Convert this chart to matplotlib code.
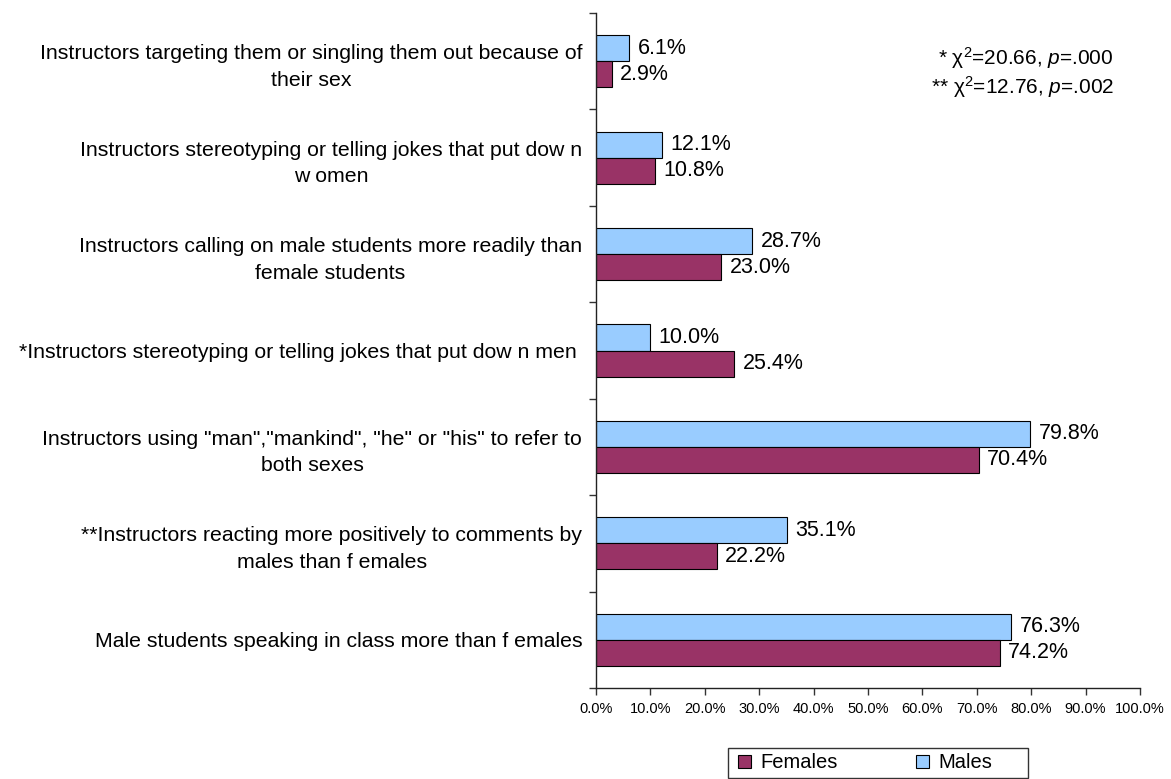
import matplotlib
matplotlib.use("Agg")
import matplotlib.pyplot as plt
from matplotlib.patches import Patch, Rectangle
import numpy as np

plt.rcParams['font.family'] = ['Liberation Sans', 'DejaVu Sans']
plt.rcParams['mathtext.fontset'] = 'custom'
plt.rcParams['mathtext.rm'] = 'Liberation Sans'
plt.rcParams['mathtext.it'] = 'Liberation Sans:italic'

# survey items, top to bottom
items = [
    "Instructors targeting them or singling them out because of\ntheir sex",
    "Instructors stereotyping or telling jokes that put dow n\nw omen",
    "Instructors calling on male students more readily than\nfemale students",
    "*Instructors stereotyping or telling jokes that put dow n men ",
    "Instructors using \"man\",\"mankind\", \"he\" or \"his\" to refer to\nboth sexes",
    "**Instructors reacting more positively to comments by\nmales than f emales",
    "Male students speaking in class more than f emales",
]
males = [6.1, 12.1, 28.7, 10.0, 79.8, 35.1, 76.3]
females = [2.9, 10.8, 23.0, 25.4, 70.4, 22.2, 74.2]
xticks = np.arange(0, 101, 10)

male_color = '#99CCFF'
female_color = '#993366'

fig = plt.figure(figsize=(11.71, 7.79), dpi=100)
ax = fig.add_axes([0.509, 0.1168, 0.4645, 0.8665])

y = np.arange(len(items))
h = 0.27
ax.barh(y - h / 2, males, height=h, color=male_color, edgecolor='black', linewidth=0.8)
ax.barh(y + h / 2, females, height=h, color=female_color, edgecolor='black', linewidth=0.8)

for yi, m, f in zip(y, males, females):
    ax.annotate(f"{m:.1f}%", (m, yi - h / 2), xytext=(6, 0), textcoords='offset points',
                va='center', ha='left', fontsize=15.5)
    ax.annotate(f"{f:.1f}%", (f, yi + h / 2), xytext=(6, 0), textcoords='offset points',
                va='center', ha='left', fontsize=15.5)

ax.set_xlim(0, 100)
ax.set_ylim(len(items) - 0.5, -0.5)
ax.set_xticks(xticks)
ax.set_xticklabels([f"{v:.1f}%" for v in xticks], fontsize=10.5)
ax.set_yticks(y)
ax.set_yticklabels(items, fontsize=15.3, multialignment='center', linespacing=1.5)
ax.set_yticks(np.arange(len(items) + 1) - 0.5, minor=True)
ax.tick_params(axis='y', which='major', length=0, pad=10)
ax.tick_params(axis='y', which='minor', length=5, width=1, color='#333333')
ax.tick_params(axis='x', length=5, width=1, color='#333333', pad=5)

for side in ['top', 'right']:
    ax.spines[side].set_visible(False)
for side in ['left', 'bottom']:
    ax.spines[side].set_color('#222222')
    ax.spines[side].set_linewidth(1)

# chi-square notes
ax.text(0.952, 0.934, "* χ$^{2}$=20.66, $p$=.000", transform=ax.transAxes,
        ha='right', va='center', fontsize=15)
ax.text(0.952, 0.891, "** χ$^{2}$=12.76, $p$=.002", transform=ax.transAxes,
        ha='right', va='center', fontsize=15)

handles = [Patch(facecolor=female_color, edgecolor='black', linewidth=0.8),
           Patch(facecolor=male_color, edgecolor='black', linewidth=0.8)]
fig.legend(handles, ['Females', 'Males'], loc='center left', ncol=2,
           bbox_to_anchor=(738 / 1171, 1 - 763 / 779), fontsize=14.5,
           frameon=False, borderaxespad=0, borderpad=0, handlelength=0.65,
           handleheight=0.65, handletextpad=0.45, columnspacing=3.9)
fig.patches.append(Rectangle((728 / 1171, 1 - 778 / 779), 300 / 1171, 30 / 779,
                             transform=fig.transFigure, fill=False,
                             edgecolor='#333333', linewidth=1))

fig.savefig('out.png', dpi=100)
